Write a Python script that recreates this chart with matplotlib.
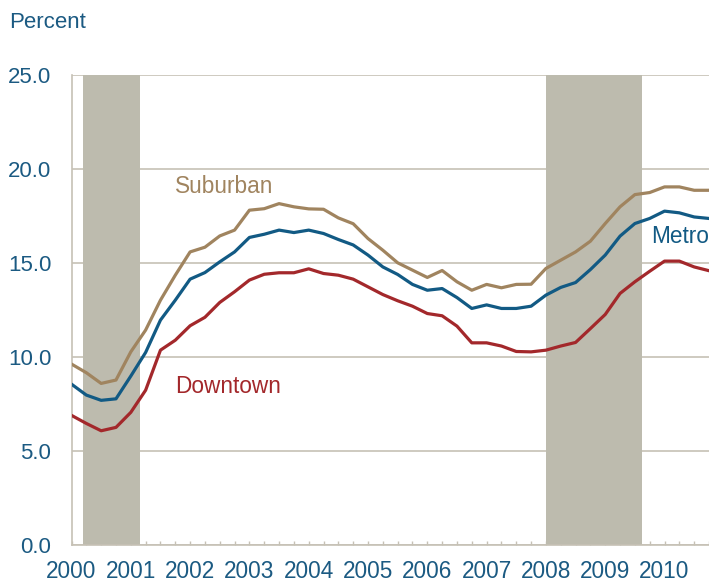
import numpy as np
import matplotlib
matplotlib.use("Agg")
import matplotlib.pyplot as plt

plt.rcParams['font.family'] = ['Liberation Sans', 'DejaVu Sans']

# quarterly, 2000Q1 .. 2010Q4
years = list(range(2000, 2011))
quarters = [y + q / 4 for y in years for q in range(4)]

suburban = [9.63, 9.17, 8.60, 8.78,
            10.28, 11.44, 13.03, 14.36,
            15.60, 15.85, 16.45, 16.76,
            17.82, 17.90, 18.17, 18.00,
            17.89, 17.87, 17.41, 17.10,
            16.31, 15.69, 15.02, 14.63,
            14.24, 14.61, 14.01, 13.56,
            13.87, 13.69, 13.87, 13.88,
            14.72, 15.16, 15.60, 16.17,
            17.11, 18.00, 18.65, 18.76,
            19.06, 19.06, 18.88, 18.88]

metro = [8.56, 7.98, 7.70, 7.78,
         8.99, 10.25, 11.97, 13.03,
         14.15, 14.50, 15.07, 15.60,
         16.37, 16.54, 16.76, 16.63,
         16.76, 16.58, 16.26, 15.97,
         15.43, 14.80, 14.40, 13.87,
         13.56, 13.65, 13.17, 12.59,
         12.78, 12.59, 12.59, 12.71,
         13.30, 13.71, 13.97, 14.66,
         15.43, 16.44, 17.11, 17.38,
         17.77, 17.68, 17.46, 17.38]

downtown = [6.90, 6.47, 6.08, 6.26,
            7.06, 8.24, 10.37, 10.90,
            11.67, 12.12, 12.91, 13.48,
            14.10, 14.41, 14.49, 14.49,
            14.70, 14.45, 14.36, 14.15,
            13.74, 13.33, 13.00, 12.71,
            12.32, 12.20, 11.65, 10.76,
            10.76, 10.59, 10.30, 10.28,
            10.37, 10.59, 10.78, 11.52,
            12.27, 13.39, 14.01, 14.57,
            15.11, 15.11, 14.80, 14.60]

recessions = [(2000.2, 2001.15), (2008.0, 2009.62)]
yticks = [0, 5, 10, 15, 20, 25]

text_blue = '#1b5a82'
grid_col = '#c6c1b5'

fig = plt.figure(figsize=(7.09, 5.82), dpi=100)
ax = fig.add_axes([71.5 / 709, 1 - 545 / 582, 1 - 71.5 / 709, (545 - 75.3) / 582])

for a, b in recessions:
    ax.axvspan(a, b, color='#bdbbae', lw=0, zorder=1)

ax.plot(quarters, suburban, color='#a0845f', lw=2.3, zorder=3)
ax.plot(quarters, metro, color='#125a84', lw=2.3, zorder=3)
ax.plot(quarters, downtown, color='#a3282b', lw=2.3, zorder=3)

ax.text(2001.74, 18.72, 'Suburban', color='#a0845f', fontsize=16.3, va='baseline')
ax.text(2001.74, 8.1, 'Downtown', color='#a3282b', fontsize=16.3, va='baseline')
ax.text(2009.77, 16.08, 'Metro', color='#125a84', fontsize=16.3, va='baseline')

ax.set_xlim(2000, 2000 + (709 - 71.5) / 59.6)
ax.set_ylim(0, 25)
ax.set_axisbelow(True)

ax.set_yticks(yticks)
ax.set_yticklabels([f'{v:.1f}' for v in yticks])
ax.set_xticks(years)
ax.set_xticklabels([str(y) for y in years])
ax.set_xticks(quarters, minor=True)

ax.yaxis.grid(True, color=grid_col, lw=1.2)
ax.tick_params(axis='y', length=0, pad=14.5, labelsize=16, labelcolor=text_blue)
ax.tick_params(axis='x', which='both', direction='in', length=3, width=1,
               color=grid_col, pad=10.8, labelsize=16.3, labelcolor=text_blue)

for s in ['top', 'right']:
    ax.spines[s].set_visible(False)
for s in ['left', 'bottom']:
    ax.spines[s].set_color(grid_col)
    ax.spines[s].set_linewidth(1.2)

fig.text(9 / 709, 1 - 28.3 / 582, 'Percent', color=text_blue, fontsize=16, va='baseline')

fig.savefig('out.png', dpi=100)
